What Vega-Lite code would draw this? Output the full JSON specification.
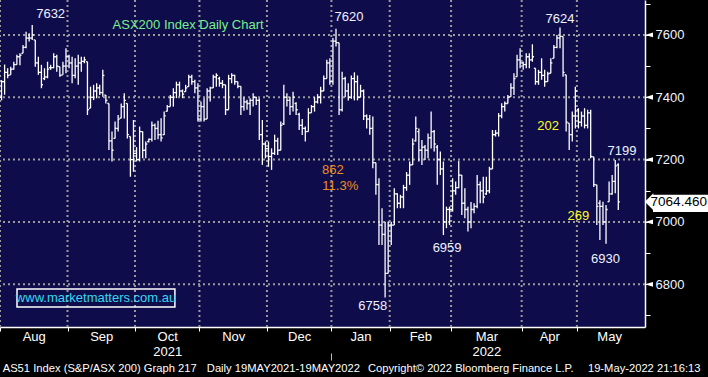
{
"$schema": "https://vega.github.io/schema/vega-lite/v6.json",
"width": 645, "height": 327,
"autosize": {"type": "none"},
"padding": {"left": 0, "top": 0, "right": 63, "bottom": 50},
"background": "#000000",
"config": {"view": {"fill": "#0f0c4b", "stroke": null}, "text": {"font": "Liberation Sans"}, "axis": {"labelFont": "Liberation Sans"}},
"datasets": {
"bounds": [{"b": -0.5}, {"b": 21.5}, {"b": 43.5}, {"b": 64.5}, {"b": 86.5}, {"b": 126.5}, {"b": 146.5}, {"b": 169.5}, {"b": 187.5}],
"grid": [{"g": 6800}, {"g": 7000}, {"g": 7200}, {"g": 7400}, {"g": 7600}],
"ohlc": [
{"d":0,"o":7400,"h":7455,"l":7390,"c":7450},{"d":1,"o":7450,"h":7505,"l":7408,"c":7480},{"d":2,"o":7480,"h":7493,"l":7461,"c":7470},{"d":3,"o":7472,"h":7498,"l":7472,"c":7490},{"d":4,"o":7490,"h":7514,"l":7488,"c":7505},{"d":5,"o":7505,"h":7536,"l":7504,"c":7530},{"d":6,"o":7530,"h":7541,"l":7503,"c":7535},{"d":7,"o":7541,"h":7568,"l":7541,"c":7560},{"d":8,"o":7560,"h":7610,"l":7557,"c":7590},{"d":9,"o":7590,"h":7605,"l":7579,"c":7590},{"d":10,"o":7590,"h":7632,"l":7584,"c":7600},{"d":11,"o":7584,"h":7584,"l":7498,"c":7510},{"d":12,"o":7510,"h":7530,"l":7472,"c":7480},{"d":13,"o":7480,"h":7504,"l":7429,"c":7440},{"d":14,"o":7460,"h":7493,"l":7455,"c":7465},{"d":15,"o":7465,"h":7514,"l":7461,"c":7490},{"d":16,"o":7495,"h":7504,"l":7488,"c":7495},{"d":17,"o":7495,"h":7541,"l":7493,"c":7530},{"d":18,"o":7530,"h":7536,"l":7482,"c":7500},{"d":19,"o":7498,"h":7498,"l":7466,"c":7470},{"d":20,"o":7472,"h":7514,"l":7472,"c":7500},{"d":21,"o":7500,"h":7557,"l":7477,"c":7530},
{"d":22,"o":7530,"h":7536,"l":7493,"c":7510},{"d":23,"o":7510,"h":7530,"l":7445,"c":7470},{"d":24,"o":7470,"h":7525,"l":7461,"c":7500},{"d":25,"o":7500,"h":7536,"l":7440,"c":7510},{"d":26,"o":7510,"h":7530,"l":7482,"c":7515},{"d":27,"o":7515,"h":7530,"l":7509,"c":7520},{"d":28,"o":7514,"h":7514,"l":7343,"c":7360},{"d":29,"o":7365,"h":7434,"l":7365,"c":7400},{"d":30,"o":7400,"h":7440,"l":7391,"c":7420},{"d":31,"o":7420,"h":7445,"l":7397,"c":7430},{"d":32,"o":7430,"h":7440,"l":7407,"c":7415},{"d":33,"o":7415,"h":7488,"l":7402,"c":7470},{"d":34,"o":7407,"h":7407,"l":7380,"c":7390},{"d":35,"o":7380,"h":7380,"l":7231,"c":7260},{"d":36,"o":7260,"h":7290,"l":7194,"c":7230},{"d":37,"o":7268,"h":7322,"l":7268,"c":7300},{"d":38,"o":7300,"h":7343,"l":7290,"c":7330},{"d":39,"o":7333,"h":7380,"l":7333,"c":7370},{"d":40,"o":7370,"h":7413,"l":7332,"c":7390},{"d":41,"o":7380,"h":7380,"l":7268,"c":7280},{"d":42,"o":7274,"h":7274,"l":7145,"c":7200},{"d":43,"o":7200,"h":7327,"l":7161,"c":7220},
{"d":44,"o":7220,"h":7240,"l":7194,"c":7200},{"d":45,"o":7200,"h":7306,"l":7194,"c":7290},{"d":46,"o":7290,"h":7290,"l":7204,"c":7230},{"d":47,"o":7230,"h":7258,"l":7204,"c":7250},{"d":48,"o":7258,"h":7268,"l":7255,"c":7265},{"d":49,"o":7265,"h":7322,"l":7258,"c":7310},{"d":50,"o":7310,"h":7316,"l":7263,"c":7300},{"d":51,"o":7300,"h":7325,"l":7265,"c":7280},{"d":52,"o":7280,"h":7333,"l":7258,"c":7270},{"d":53,"o":7280,"h":7354,"l":7279,"c":7340},{"d":54,"o":7355,"h":7375,"l":7354,"c":7370},{"d":55,"o":7370,"h":7407,"l":7370,"c":7400},{"d":56,"o":7400,"h":7429,"l":7370,"c":7415},{"d":57,"o":7415,"h":7450,"l":7397,"c":7440},{"d":58,"o":7440,"h":7450,"l":7402,"c":7420},{"d":59,"o":7420,"h":7425,"l":7397,"c":7410},{"d":60,"o":7418,"h":7440,"l":7418,"c":7430},{"d":61,"o":7434,"h":7472,"l":7434,"c":7465},{"d":62,"o":7465,"h":7472,"l":7440,"c":7450},{"d":63,"o":7450,"h":7456,"l":7413,"c":7430},{"d":64,"o":7430,"h":7445,"l":7322,"c":7330},
{"d":65,"o":7330,"h":7386,"l":7322,"c":7370},{"d":66,"o":7370,"h":7397,"l":7322,"c":7330},{"d":67,"o":7330,"h":7429,"l":7330,"c":7420},{"d":68,"o":7420,"h":7434,"l":7386,"c":7430},{"d":69,"o":7430,"h":7472,"l":7430,"c":7465},{"d":70,"o":7465,"h":7477,"l":7434,"c":7470},{"d":71,"o":7460,"h":7466,"l":7434,"c":7445},{"d":72,"o":7445,"h":7455,"l":7429,"c":7440},{"d":73,"o":7440,"h":7440,"l":7343,"c":7360},{"d":74,"o":7360,"h":7472,"l":7360,"c":7460},{"d":75,"o":7460,"h":7477,"l":7445,"c":7470},{"d":76,"o":7470,"h":7472,"l":7440,"c":7450},{"d":77,"o":7450,"h":7450,"l":7429,"c":7435},{"d":78,"o":7435,"h":7435,"l":7343,"c":7370},{"d":79,"o":7370,"h":7400,"l":7357,"c":7385},{"d":80,"o":7385,"h":7392,"l":7360,"c":7380},{"d":81,"o":7380,"h":7397,"l":7343,"c":7390},{"d":82,"o":7390,"h":7413,"l":7370,"c":7400},{"d":83,"o":7400,"h":7402,"l":7375,"c":7390},{"d":84,"o":7390,"h":7397,"l":7263,"c":7280},{"d":85,"o":7280,"h":7327,"l":7183,"c":7250},{"d":86,"o":7250,"h":7258,"l":7204,"c":7235},
{"d":87,"o":7235,"h":7258,"l":7177,"c":7210},{"d":88,"o":7210,"h":7236,"l":7167,"c":7220},{"d":89,"o":7220,"h":7280,"l":7215,"c":7260},{"d":90,"o":7260,"h":7270,"l":7215,"c":7230},{"d":91,"o":7230,"h":7322,"l":7230,"c":7310},{"d":92,"o":7315,"h":7440,"l":7311,"c":7400},{"d":93,"o":7400,"h":7413,"l":7370,"c":7390},{"d":94,"o":7390,"h":7402,"l":7343,"c":7370},{"d":95,"o":7370,"h":7418,"l":7354,"c":7400},{"d":96,"o":7380,"h":7384,"l":7343,"c":7360},{"d":97,"o":7345,"h":7350,"l":7295,"c":7310},{"d":98,"o":7310,"h":7330,"l":7279,"c":7300},{"d":99,"o":7300,"h":7306,"l":7258,"c":7290},{"d":100,"o":7290,"h":7365,"l":7290,"c":7350},{"d":101,"o":7350,"h":7375,"l":7350,"c":7370},{"d":102,"o":7370,"h":7400,"l":7354,"c":7385},{"d":103,"o":7385,"h":7410,"l":7380,"c":7400},{"d":104,"o":7400,"h":7434,"l":7380,"c":7420},{"d":105,"o":7420,"h":7470,"l":7420,"c":7460},{"d":106,"o":7460,"h":7520,"l":7460,"c":7510},{"d":107,"o":7510,"h":7525,"l":7440,"c":7450},
{"d":108,"o":7450,"h":7590,"l":7440,"c":7580},{"d":109,"o":7580,"h":7620,"l":7563,"c":7575},{"d":110,"o":7575,"h":7575,"l":7343,"c":7360},{"d":111,"o":7360,"h":7482,"l":7354,"c":7460},{"d":112,"o":7460,"h":7466,"l":7400,"c":7420},{"d":113,"o":7420,"h":7445,"l":7390,"c":7400},{"d":114,"o":7400,"h":7470,"l":7395,"c":7460},{"d":115,"o":7460,"h":7480,"l":7390,"c":7450},{"d":116,"o":7450,"h":7470,"l":7390,"c":7400},{"d":117,"o":7400,"h":7440,"l":7400,"c":7420},{"d":118,"o":7420,"h":7425,"l":7327,"c":7340},{"d":119,"o":7340,"h":7345,"l":7300,"c":7330},{"d":120,"o":7330,"h":7343,"l":7280,"c":7300},{"d":121,"o":7300,"h":7338,"l":7172,"c":7190},{"d":122,"o":7190,"h":7190,"l":7087,"c":7120},{"d":123,"o":7120,"h":7140,"l":6926,"c":6990},{"d":124,"o":6990,"h":7044,"l":6926,"c":6960},{"d":125,"o":6960,"h":7001,"l":6758,"c":6835},{"d":126,"o":6835,"h":7001,"l":6835,"c":6990},
{"d":127,"o":6990,"h":7001,"l":6926,"c":6990},{"d":128,"o":6990,"h":7108,"l":6990,"c":7090},{"d":129,"o":7090,"h":7092,"l":7044,"c":7060},{"d":130,"o":7060,"h":7087,"l":7044,"c":7080},{"d":131,"o":7080,"h":7119,"l":7044,"c":7110},{"d":132,"o":7110,"h":7160,"l":7100,"c":7150},{"d":133,"o":7150,"h":7194,"l":7119,"c":7183},{"d":134,"o":7183,"h":7268,"l":7183,"c":7250},{"d":135,"o":7260,"h":7338,"l":7258,"c":7300},{"d":136,"o":7290,"h":7300,"l":7194,"c":7230},{"d":137,"o":7230,"h":7263,"l":7183,"c":7240},{"d":138,"o":7240,"h":7247,"l":7199,"c":7230},{"d":139,"o":7230,"h":7284,"l":7204,"c":7270},{"d":140,"o":7270,"h":7354,"l":7236,"c":7290},{"d":141,"o":7290,"h":7295,"l":7226,"c":7250},{"d":142,"o":7240,"h":7247,"l":7119,"c":7200},{"d":143,"o":7200,"h":7226,"l":7151,"c":7170},{"d":144,"o":7170,"h":7194,"l":6958,"c":7000},{"d":145,"o":7000,"h":7049,"l":6980,"c":7040},{"d":146,"o":7040,"h":7049,"l":6990,"c":7040},
{"d":147,"o":7040,"h":7140,"l":7033,"c":7100},{"d":148,"o":7100,"h":7130,"l":7087,"c":7110},{"d":149,"o":7110,"h":7196,"l":7108,"c":7150},{"d":150,"o":7150,"h":7151,"l":7022,"c":7060},{"d":151,"o":7060,"h":7108,"l":7012,"c":7040},{"d":152,"o":7040,"h":7049,"l":6969,"c":7000},{"d":153,"o":7000,"h":7064,"l":6980,"c":7040},{"d":154,"o":7040,"h":7060,"l":7028,"c":7050},{"d":155,"o":7050,"h":7151,"l":7044,"c":7120},{"d":156,"o":7120,"h":7130,"l":7060,"c":7100},{"d":157,"o":7100,"h":7145,"l":7060,"c":7080},{"d":158,"o":7090,"h":7145,"l":7087,"c":7100},{"d":159,"o":7100,"h":7177,"l":7092,"c":7170},{"d":160,"o":7170,"h":7295,"l":7170,"c":7280},{"d":161,"o":7280,"h":7295,"l":7274,"c":7285},{"d":162,"o":7285,"h":7349,"l":7274,"c":7340},{"d":163,"o":7340,"h":7381,"l":7333,"c":7370},{"d":164,"o":7370,"h":7386,"l":7354,"c":7380},{"d":165,"o":7380,"h":7407,"l":7380,"c":7400},{"d":166,"o":7402,"h":7445,"l":7402,"c":7430},{"d":167,"o":7430,"h":7477,"l":7407,"c":7460},{"d":168,"o":7466,"h":7536,"l":7466,"c":7520},{"d":169,"o":7520,"h":7557,"l":7493,"c":7510},
{"d":170,"o":7510,"h":7514,"l":7488,"c":7505},{"d":171,"o":7505,"h":7541,"l":7493,"c":7530},{"d":172,"o":7530,"h":7541,"l":7493,"c":7520},{"d":173,"o":7520,"h":7570,"l":7514,"c":7530},{"d":174,"o":7493,"h":7493,"l":7440,"c":7450},{"d":175,"o":7450,"h":7488,"l":7440,"c":7480},{"d":176,"o":7480,"h":7525,"l":7456,"c":7470},{"d":177,"o":7470,"h":7488,"l":7434,"c":7450},{"d":178,"o":7450,"h":7482,"l":7450,"c":7475},{"d":179,"o":7477,"h":7525,"l":7477,"c":7510},{"d":180,"o":7525,"h":7568,"l":7525,"c":7560},{"d":181,"o":7560,"h":7600,"l":7557,"c":7590},{"d":182,"o":7590,"h":7624,"l":7557,"c":7595},{"d":183,"o":7595,"h":7595,"l":7466,"c":7480},{"d":184,"o":7472,"h":7472,"l":7290,"c":7320},{"d":185,"o":7317,"h":7317,"l":7231,"c":7280},{"d":186,"o":7280,"h":7354,"l":7258,"c":7340},{"d":187,"o":7340,"h":7434,"l":7300,"c":7420},
{"d":188,"o":7360,"h":7365,"l":7300,"c":7320},{"d":189,"o":7320,"h":7354,"l":7306,"c":7340},{"d":190,"o":7340,"h":7365,"l":7300,"c":7310},{"d":191,"o":7310,"h":7360,"l":7300,"c":7350},{"d":192,"o":7350,"h":7360,"l":7204,"c":7210},{"d":193,"o":7209,"h":7209,"l":7112,"c":7120},{"d":194,"o":7119,"h":7119,"l":6990,"c":7050},{"d":195,"o":7060,"h":7070,"l":6942,"c":7050},{"d":196,"o":7050,"h":7065,"l":6990,"c":7000},{"d":197,"o":7000,"h":7054,"l":6930,"c":7040},{"d":198,"o":7065,"h":7130,"l":7065,"c":7090},{"d":199,"o":7090,"h":7151,"l":7087,"c":7130},{"d":200,"o":7130,"h":7199,"l":7092,"c":7180},{"d":201,"o":7183,"h":7188,"l":7038,"c":7064.46}
],
"notes": [
{"t":"7632","d":16.0,"v":7667,"k":"price"},
{"t":"7620","d":113.2,"v":7656,"k":"price"},
{"t":"7624","d":182.0,"v":7651,"k":"price"},
{"t":"7199","d":202.2,"v":7226,"k":"price"},
{"t":"6959","d":145.2,"v":6916,"k":"price"},
{"t":"6930","d":196.8,"v":6880,"k":"price"},
{"t":"6758","d":121.0,"v":6730,"k":"price"},
{"t":"202","d":178.1,"v":7308,"k":"range"},
{"t":"269","d":188.0,"v":7018,"k":"range"},
{"t":"862","d":108.0,"v":7167,"k":"fall"},
{"t":"11.3%","d":110.4,"v":7114,"k":"fall"},
{"t":"www.marketmatters.com.au","d":30.8,"v":6756,"k":"url"},
{"t":"ASX200 Index Daily Chart","d":60.8,"v":7632,"k":"title"}
],
"footer": [
{"t":"AS51 Index (S&P/ASX 200) Graph 217","d":0.38},
{"t":"Daily 19MAY2021-19MAY2022","d":66.9},
{"t":"Copyright© 2022 Bloomberg Finance L.P.","d":119.4},
{"t":"19-May-2022 21:16:13","d":191.1}
]
},
"resolve": {"axis": {"x": "independent", "y": "independent"}},
"layer": [
{"data": {"name": "bounds"},
 "mark": {"type": "rule", "color": "#9a9a9a", "strokeWidth": 2, "strokeDash": [2, 3]},
 "encoding": {"x": {"field": "b", "type": "quantitative", "scale": {"domain": [-0.5, 209.7], "nice": false, "zero": false},
   "axis": {"orient": "bottom", "values": [-0.5, 21.5, 43.5, 64.5, 86.5, 107.5, 126.5, 146.5, 169.5, 187.5], "labels": false, "ticks": true, "tickColor": "#ffffff", "tickSize": 4, "tickWidth": 1, "domain": true, "domainColor": "#ffffff", "domainWidth": 1.5, "grid": false, "title": null}}}},
{"data": {"values": [{"s": 107.5}]},
 "mark": {"type": "rule", "color": "#9a9a9a", "strokeWidth": 2, "strokeDash": [2, 3]},
 "encoding": {"x": {"field": "s", "type": "quantitative", "scale": {"domain": [-0.5, 209.7], "nice": false, "zero": false},
   "axis": {"orient": "bottom", "values": [107.5], "offset": 26, "labels": false, "ticks": true, "tickColor": "#bbbbbb", "tickSize": 7, "tickWidth": 1, "domain": false, "grid": false, "title": null}}}},
{"data": {"name": "grid"},
 "mark": {"type": "rule", "color": "#9a9a9a", "strokeWidth": 2, "strokeDash": [2, 3]},
 "encoding": {"y": {"field": "g", "type": "quantitative", "scale": {"domain": [6663, 7712], "nice": false, "zero": false}, "axis": null}}},
{"data": {"name": "ohlc"},
 "mark": {"type": "rule", "color": "#ffffff", "strokeWidth": 1.3},
 "encoding": {
  "x": {"field": "d", "type": "quantitative", "scale": {"domain": [-0.5, 209.7], "nice": false, "zero": false},
   "axis": {"orient": "bottom", "values": [10.5, 32.5, 54, 75.5, 97, 117, 136.5, 158, 178.5, 198], "labelExpr": "datum.value < 20 ? 'Aug' : datum.value < 40 ? 'Sep' : datum.value < 60 ? ['Oct', '2021'] : datum.value < 80 ? 'Nov' : datum.value < 100 ? 'Dec' : datum.value < 125 ? 'Jan' : datum.value < 140 ? 'Feb' : datum.value < 160 ? ['Mar', '2022'] : datum.value < 180 ? 'Apr' : 'May'", "ticks": false, "domain": false, "grid": false, "labelPadding": 3, "labelColor": "#ffffff", "labelFontSize": 13, "labelLineHeight": 15, "labelBaseline": "top", "labelFlush": false, "labelOverlap": false, "title": null}},
  "y": {"field": "l", "type": "quantitative", "scale": {"domain": [6663, 7712], "nice": false, "zero": false},
   "axis": {"orient": "right", "values": [6700, 6800, 6900, 7000, 7100, 7200, 7300, 7400, 7500, 7600, 7700], "labelExpr": "datum.value == 6800 || datum.value == 7000 || datum.value == 7200 || datum.value == 7400 || datum.value == 7600 ? '' + datum.value : ''", "grid": false, "domain": true, "domainColor": "#ffffff", "domainWidth": 1.5, "ticks": true, "tickColor": "#ffffff", "tickSize": 5, "labelColor": "#f2f5ff", "labelFontSize": 13, "labelPadding": 5, "labelFlush": false, "labelOverlap": false, "title": null}},
  "y2": {"field": "h"}}},
{"data": {"name": "ohlc"},
 "mark": {"type": "rule", "color": "#ffffff", "strokeWidth": 1.3, "xOffset": -1.6},
 "encoding": {
  "x": {"field": "d", "type": "quantitative", "scale": {"domain": [-0.5, 209.7], "nice": false, "zero": false}, "axis": null},
  "x2": {"field": "d"},
  "y": {"field": "o", "type": "quantitative", "scale": {"domain": [6663, 7712], "nice": false, "zero": false}, "axis": null}}},
{"data": {"name": "ohlc"},
 "mark": {"type": "rule", "color": "#ffffff", "strokeWidth": 1.3, "x2Offset": 1.6},
 "encoding": {
  "x": {"field": "d", "type": "quantitative", "scale": {"domain": [-0.5, 209.7], "nice": false, "zero": false}, "axis": null},
  "x2": {"field": "d"},
  "y": {"field": "c", "type": "quantitative", "scale": {"domain": [6663, 7712], "nice": false, "zero": false}, "axis": null}}},
{"data": {"name": "grid"},
 "mark": {"type": "point", "shape": "M-1,0L1,-0.6L1,0.6Z", "size": 64, "filled": true, "color": "#ffffff", "opacity": 1},
 "encoding": {
  "x": {"datum": 211.0, "type": "quantitative", "scale": {"domain": [-0.5, 209.7], "nice": false, "zero": false}, "axis": null},
  "y": {"field": "g", "type": "quantitative", "scale": {"domain": [6663, 7712], "nice": false, "zero": false}, "axis": null}}},
{"data": {"values": [{}]},
 "mark": {"type": "rect", "color": "#ffffff"},
 "encoding": {
  "x": {"datum": 212.3, "type": "quantitative", "scale": {"domain": [-0.5, 209.7], "nice": false, "zero": false}, "axis": null},
  "x2": {"datum": 240},
  "y": {"datum": 7032, "type": "quantitative", "scale": {"domain": [6663, 7712], "nice": false, "zero": false}, "axis": null},
  "y2": {"datum": 7087}}},
{"data": {"values": [{}]},
 "mark": {"type": "point", "shape": "M-1,0L0,-1L0,1Z", "size": 289, "filled": true, "color": "#ffffff", "opacity": 1},
 "encoding": {
  "x": {"datum": 212.43, "type": "quantitative", "scale": {"domain": [-0.5, 209.7], "nice": false, "zero": false}, "axis": null},
  "y": {"datum": 7064.46, "type": "quantitative", "scale": {"domain": [6663, 7712], "nice": false, "zero": false}, "axis": null}}},
{"data": {"values": [{}]},
 "mark": {"type": "text", "color": "#000000", "fontSize": 13.5, "align": "center", "baseline": "middle"},
 "encoding": {
  "text": {"value": "7064.460"},
  "x": {"datum": 220.7, "type": "quantitative", "scale": {"domain": [-0.5, 209.7], "nice": false, "zero": false}, "axis": null},
  "y": {"datum": 7064.46, "type": "quantitative", "scale": {"domain": [6663, 7712], "nice": false, "zero": false}, "axis": null}}},
{"data": {"values": [{}]},
 "mark": {"type": "rect", "filled": false, "color": "#ffffff", "strokeWidth": 1.5},
 "encoding": {
  "x": {"datum": 5.04, "type": "quantitative", "scale": {"domain": [-0.5, 209.7], "nice": false, "zero": false}, "axis": null},
  "x2": {"datum": 56.5},
  "y": {"datum": 6727, "type": "quantitative", "scale": {"domain": [6663, 7712], "nice": false, "zero": false}, "axis": null},
  "y2": {"datum": 6785}}},
{"data": {"name": "notes"},
 "mark": {"type": "text", "fontSize": 13, "align": "center", "baseline": "middle"},
 "encoding": {
  "text": {"field": "t"},
  "x": {"field": "d", "type": "quantitative", "scale": {"domain": [-0.5, 209.7], "nice": false, "zero": false}, "axis": null},
  "y": {"field": "v", "type": "quantitative", "scale": {"domain": [6663, 7712], "nice": false, "zero": false}, "axis": null},
  "color": {"field": "k", "type": "nominal", "scale": {"domain": ["price", "range", "fall", "url", "title"], "range": ["#eef2ff", "#ffff22", "#f08c1e", "#36d8f0", "#78f08c"]}, "legend": null}}},
{"data": {"name": "footer"},
 "mark": {"type": "text", "fontSize": 11.2, "align": "left", "baseline": "middle", "color": "#ffffff"},
 "encoding": {
  "text": {"field": "t"},
  "x": {"field": "d", "type": "quantitative", "scale": {"domain": [-0.5, 209.7], "nice": false, "zero": false}, "axis": null},
  "y": {"datum": 6528, "type": "quantitative", "scale": {"domain": [6663, 7712], "nice": false, "zero": false}, "axis": null}}}
]
}
